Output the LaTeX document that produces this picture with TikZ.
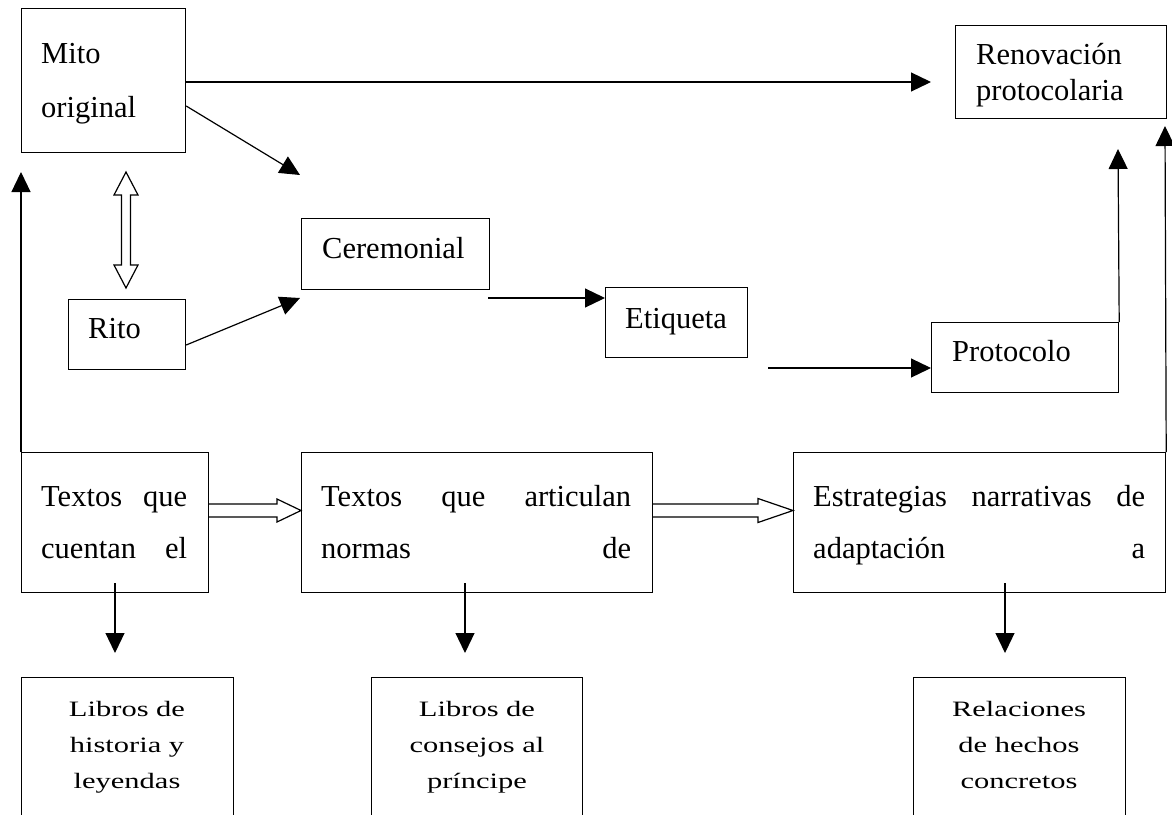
\documentclass[tikz,border=0pt]{standalone}
\usepackage{fontspec}
\usepackage{graphicx}
\setmainfont{Liberation Serif}
\usetikzlibrary{arrows.meta,calc}
\begin{document}
\begin{tikzpicture}[x=1pt,y=-1pt,
  box/.style={draw, line width=1.2pt, inner sep=0pt, anchor=north west},
  txt/.style={inner sep=0pt, anchor=base west, font=\fontsize{30.5}{36}\selectfont},
  ctxt/.style={inner sep=0pt, anchor=base, font=\fontsize{30.5}{36}\selectfont},
  arr/.style={line width=1.2pt, -{Triangle[length=20pt,width=19pt]}},
  hol/.style={draw, line width=1.2pt, fill=white, line join=miter},
]
\useasboundingbox (0,0) rectangle (1172,814);
\clip (0,0) rectangle (1172,814);
\fill[white] (0,0) rectangle (1172,814);

% boxes
\node[box, minimum width=164pt, minimum height=144pt] (mito) at (21,8) {};
\node[box, minimum width=211pt, minimum height=93pt] (reno) at (955,25) {};
\node[box, minimum width=117pt, minimum height=70pt] (rito) at (68,299) {};
\node[box, minimum width=188pt, minimum height=71pt] (cere) at (301,218) {};
\node[box, minimum width=142pt, minimum height=70pt] (etiq) at (605,287) {};
\node[box, minimum width=187pt, minimum height=70pt] (proto) at (931,322) {};
\node[box, minimum width=187pt, minimum height=140pt] (t1) at (21,452) {};
\node[box, minimum width=351pt, minimum height=140pt] (t2) at (301,452) {};
\node[box, minimum width=372pt, minimum height=140pt] (t3) at (793,452) {};
\node[box, minimum width=212pt, minimum height=170pt] (l1) at (21,677) {};
\node[box, minimum width=211pt, minimum height=170pt] (l2) at (371,677) {};
\node[box, minimum width=212pt, minimum height=170pt] (l3) at (913,677) {};

% texts
\node[txt] (mito1) at (41,63) {Mito};
\node[txt] (mito2) at (41,117) {original};
\node[txt] (reno1) at (976,64) {Renovación};
\node[txt] (reno2) at (976,100) {protocolaria};
\node[txt] (ritot) at (88,338) {Rito};
\node[txt] (ceret) at (322,258) {Ceremonial};
\node[txt] (etiqt) at (625,328) {Etiqueta};
\node[txt] (protot) at (952,361) {Protocolo};
\node[txt] (t1a) at (41,506) {\hbox to 146pt{Textos\hfill que}};
\node[txt] (t1b) at (41,558) {\hbox to 146pt{cuentan\hfill el}};
\node[txt] (t2a) at (321,506) {\hbox to 310pt{Textos\hfill que\hfill articulan}};
\node[txt] (t2b) at (321,558) {\hbox to 310pt{normas\hfill de}};
\node[txt] (t3a) at (813,506) {\hbox to 332pt{Estrategias\hfill narrativas\hfill de}};
\node[txt] (t3b) at (813,558) {\hbox to 332pt{adaptación\hfill a}};

\node[ctxt] (l1a) at (127,716) {\scalebox{1}[0.72]{Libros de}};
\node[ctxt] (l1b) at (127,752) {\scalebox{1}[0.72]{historia y}};
\node[ctxt] (l1c) at (127,788) {\scalebox{1}[0.72]{leyendas}};
\node[ctxt] (l2a) at (477,716) {\scalebox{1}[0.72]{Libros de}};
\node[ctxt] (l2b) at (477,752) {\scalebox{1}[0.72]{consejos al}};
\node[ctxt] (l2c) at (477,788) {\scalebox{1}[0.72]{príncipe}};
\node[ctxt] (l3a) at (1019,716) {\scalebox{1}[0.72]{Relaciones}};
\node[ctxt] (l3b) at (1019,752) {\scalebox{1}[0.72]{de hechos}};
\node[ctxt] (l3c) at (1019,788) {\scalebox{1}[0.72]{concretos}};

% free ends
\coordinate (tipreno) at (931,82);
\coordinate (m2) at (0,106);
\coordinate (tipdiag) at (300,175);
\coordinate (r2) at (0,345);
\coordinate (tipcere) at (300,298);
\coordinate (cereout) at (488,298);
\coordinate (etiqout) at (768,368);
\coordinate (tipproto) at (1118,149);
\coordinate (tipreno2) at (1165,126);
\coordinate (tipmito) at (21,172);
\coordinate (d1s) at (115,583);
\coordinate (d1e) at (115,653);
\coordinate (d2s) at (465,583);
\coordinate (d2e) at (465,653);
\coordinate (d3s) at (1005,583);
\coordinate (d3e) at (1005,653);

% arrows
\draw[arr] (mito.east |- tipreno) -- (tipreno);
\draw[arr] (mito.east |- m2) -- (tipdiag);
\draw[arr] (rito.east |- r2) -- (tipcere);
\draw[arr] (cereout) -- (etiq.west |- cereout);
\draw[arr] (etiqout) -- (proto.west |- etiqout);
\draw[arr] (proto.north east) -- (tipproto);
\draw[arr] (t3.north east) -- (tipreno2);
\draw[arr] (t1.north west) -- (tipmito);
\draw[arr] (d1s) -- (d1e);
\draw[arr] (d2s) -- (d2e);
\draw[arr] (d3s) -- (d3e);

% hollow arrows
\coordinate (h1) at (0,510.5);
\draw[hol] ($(t1.east|-h1)+(0,-6.5)$) -- ($(t2.west|-h1)+(-24,-6.5)$) -- ($(t2.west|-h1)+(-24,-11.5)$) -- (t2.west|-h1) -- ($(t2.west|-h1)+(-24,11.5)$) -- ($(t2.west|-h1)+(-24,6.5)$) -- ($(t1.east|-h1)+(0,6.5)$);
\draw[hol] ($(t2.east|-h1)+(0,-6.5)$) -- ($(t3.west|-h1)+(-35,-6.5)$) -- ($(t3.west|-h1)+(-35,-12)$) -- (t3.west|-h1) -- ($(t3.west|-h1)+(-35,12)$) -- ($(t3.west|-h1)+(-35,6.5)$) -- ($(t2.east|-h1)+(0,6.5)$);

\coordinate (dt) at (126,172);
\coordinate (db) at (126,288);
\draw[hol] (dt) -- ++(12,23) -- ++(-7.5,0) -- ($(db)+(4.5,-23)$) -- ++(7.5,0) -- (db) -- ++(-12,-23) -- ++(7.5,0) -- ($(dt)+(-4.5,23)$) -- ++(-7.5,0) -- cycle;
\end{tikzpicture}
\end{document}
